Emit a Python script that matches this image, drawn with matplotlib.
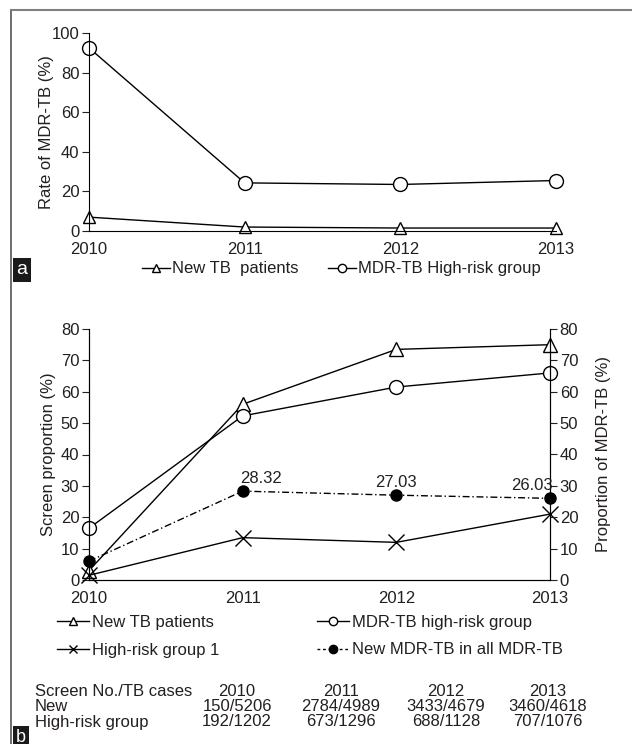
import matplotlib
matplotlib.use('Agg')
import matplotlib.pyplot as plt
from matplotlib.lines import Line2D

plt.rcParams['font.family'] = ['Liberation Sans', 'DejaVu Sans']
plt.rcParams['font.size'] = 12
cor_txt = '#231f20'
plt.rcParams['text.color'] = cor_txt
plt.rcParams['xtick.color'] = cor_txt
plt.rcParams['ytick.color'] = cor_txt
plt.rcParams['axes.labelcolor'] = cor_txt

anos = [2010, 2011, 2012, 2013]

# painel a
taxa_novos = [7.0, 2.0, 1.5, 1.5]
taxa_alto_risco = [92.5, 24.3, 23.5, 25.5]

# painel b
triagem_novos = [3.0, 56.0, 73.5, 75.0]
triagem_alto_risco = [16.5, 52.3, 61.5, 66.0]
grupo_risco1 = [1.5, 13.5, 12.0, 21.0]
novos_mdr = [6.0, 28.32, 27.03, 26.03]
rotulos_mdr = ['', '28.32', '27.03', '26.03']

cabecalho = ['Screen No./TB cases', '2010', '2011', '2012', '2013']
linha_novos = ['New', '150/5206', '2784/4989', '3433/4679', '3460/4618']
linha_risco = ['High-risk group', '192/1202', '673/1296', '688/1128', '707/1076']

W, H = 632, 744
fig = plt.figure(figsize=(W / 100, H / 100), dpi=100)

def fx(px):
    return px / W

def fy(py):
    return 1 - py / H

# moldura
fig.add_artist(Line2D([fx(11), fx(11)], [fy(10), 0], color='#555555', lw=1.2))
fig.add_artist(Line2D([fx(11), 1], [fy(10), fy(10)], color='#808080', lw=1.5))

est = dict(color='black', lw=1.0, clip_on=False)

# ---- painel a ----
axa = fig.add_axes([fx(89), fy(231), fx(556 - 89), (231 - 33) / H])
axa.plot(anos, taxa_novos, marker='^', ms=9, mfc='white', mec='black', mew=1.0, **est)
axa.plot(anos, taxa_alto_risco, marker='o', ms=10, mfc='white', mec='black', mew=1.0, **est)
axa.set_xlim(2010, 2013)
axa.set_ylim(0, 100)
axa.set_yticks(range(0, 101, 20))
axa.set_xticks(anos)
axa.spines['top'].set_visible(False)
axa.spines['right'].set_visible(False)
axa.tick_params(axis='x', length=0, pad=8)
axa.tick_params(axis='y', length=5, pad=2, direction='out')
axa.set_ylabel('Rate of MDR-TB (%)', labelpad=-2)
axa.patch.set_alpha(0)

h1 = Line2D([], [], color='black', lw=1, marker='^', ms=6, mfc='white')
h2 = Line2D([], [], color='black', lw=1, marker='o', ms=6, mfc='white')
fig.legend([h1, h2], ['New TB  patients', 'MDR-TB High-risk group'], ncol=2,
           loc='center left', bbox_to_anchor=(fx(142), fy(269)), frameon=False,
           handlelength=1.7, handletextpad=0.1, columnspacing=1.75, borderaxespad=0, borderpad=0)

fig.text(fx(22), fy(270), 'a', color='white', fontsize=14, ha='center', va='center',
         bbox=dict(boxstyle='square,pad=0.2', fc='#1a1a1a', ec='none'))

# ---- painel b ----
axb = fig.add_axes([fx(89), fy(580), fx(550 - 89), (580 - 329) / H])
axb.plot(anos, triagem_novos, marker='^', ms=10, mfc='white', mec='black', mew=1.0, **est)
axb.plot(anos, triagem_alto_risco, marker='o', ms=10, mfc='white', mec='black', mew=1.0, **est)
axb.plot(anos, grupo_risco1, marker='x', ms=11, mec='black', mew=1.0, **est)
axb.set_xlim(2010, 2013)
axb.set_ylim(0, 80)
axb.set_yticks(range(0, 81, 10))
axb.set_xticks(anos)
axb.spines['top'].set_visible(False)
axb.tick_params(axis='x', length=0, pad=8)
axb.tick_params(axis='y', length=5, pad=2, direction='out')
axb.set_ylabel('Screen proportion (%)', labelpad=3)

axb2 = axb.twinx()
axb2.set_ylim(0, 80)
axb2.set_yticks(range(0, 81, 10))
axb2.spines['top'].set_visible(False)
axb2.tick_params(axis='y', length=5, pad=2, direction='out')
axb2.set_ylabel('Proportion of MDR-TB (%)', labelpad=13)
axb2.plot(anos, novos_mdr, marker='o', ms=8, mfc='black', mec='black',
          dashes=(5, 2, 1, 2), **est)
desloc = [(0, 0), (-2, 4), (0, 4), (2, 4)]
alinh = ['center', 'left', 'center', 'right']
for x, y, t, d, a in zip(anos, novos_mdr, rotulos_mdr, desloc, alinh):
    if t:
        axb2.annotate(t, (x, y), xytext=d, textcoords='offset points', ha=a, va='bottom')

h3 = Line2D([], [], color='black', lw=1, marker='^', ms=6, mfc='white')
h4 = Line2D([], [], color='black', lw=1, marker='o', ms=6, mfc='white')
h5 = Line2D([], [], color='black', lw=1, marker='x', ms=6)
h6 = Line2D([], [], color='black', lw=1, marker='o', ms=6, mfc='black', dashes=(2, 2))
fig.legend([h3, h5, h4, h6],
           ['New TB patients', 'High-risk group 1', 'MDR-TB high-risk group', 'New MDR-TB in all MDR-TB'],
           ncol=2, loc='upper left', bbox_to_anchor=(fx(57), fy(615)), frameon=False,
           handlelength=1.9, handletextpad=0.2, columnspacing=5.85, labelspacing=0.75,
           borderaxespad=0, borderpad=0)

# tabela
col_x = [35, 237, 341, 446, 548]
for i, linha in enumerate([cabecalho, linha_novos, linha_risco]):
    yy = fy(691 + i * 15.5)
    for j, t in enumerate(linha):
        if j == 0:
            fig.text(fx(col_x[j]), yy, t, ha='left', va='center')
        else:
            fig.text(fx(col_x[j]), yy, t, ha='center', va='center')

fig.text(fx(21), fy(737), 'b', color='white', fontsize=13, ha='center', va='center',
         bbox=dict(boxstyle='square,pad=0.15', fc='#1a1a1a', ec='none'))

fig.savefig('out.png', dpi=100)
